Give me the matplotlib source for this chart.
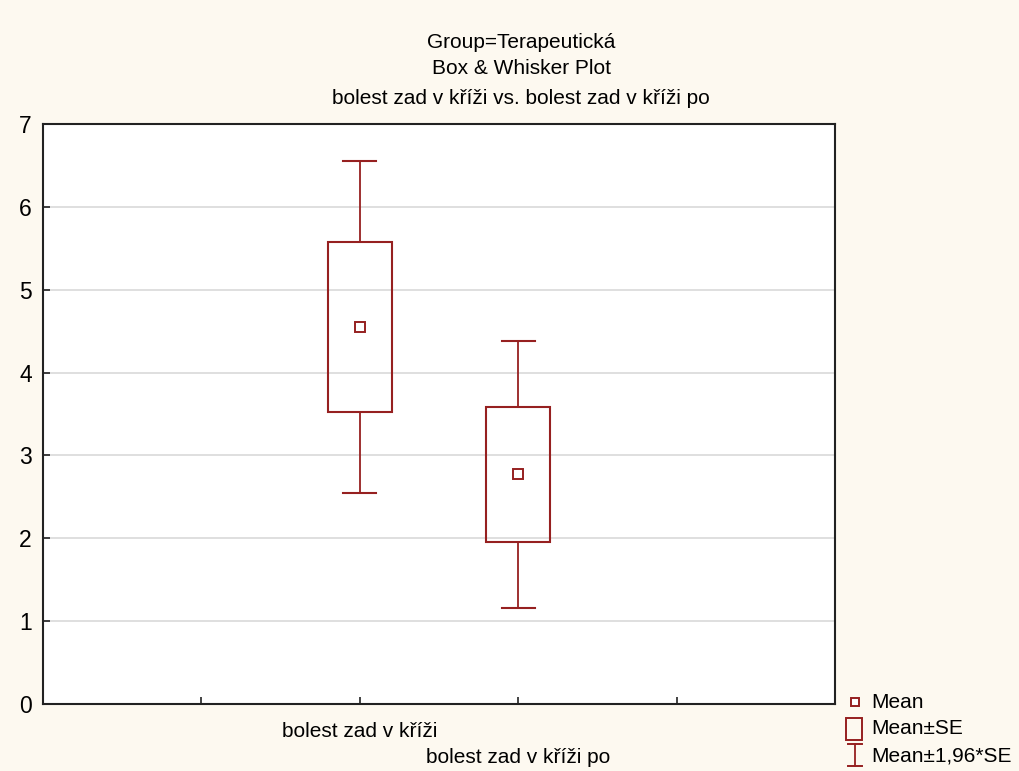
import matplotlib
matplotlib.use("Agg")
import matplotlib.pyplot as plt
from matplotlib.patches import Rectangle
from matplotlib.lines import Line2D

plt.rcParams['font.family'] = ['Liberation Sans', 'DejaVu Sans']

categories = ["bolest zad v kříži", "bolest zad v kříži po"]
means = [4.55, 2.77]
se = [1.02, 0.82]
ci_factor = 1.96
yticks = [0, 1, 2, 3, 4, 5, 6, 7]

color = '#962020'
bg = '#FDF9F0'
FS = 15

fig = plt.figure(figsize=(10.19, 7.71), dpi=100, facecolor=bg)
ax = fig.add_axes([43/1019, 1-704/771, (835-43)/1019, (704-124)/771])
ax.set_facecolor('white')

positions = [2, 3]
box_w = 0.404
cap_w = 0.21
for p, m, s in zip(positions, means, se):
    lo, hi = m - ci_factor*s, m + ci_factor*s
    ax.plot([p, p], [m+s, hi], color=color, lw=1.3, zorder=3)
    ax.plot([p, p], [lo, m-s], color=color, lw=1.3, zorder=3)
    ax.plot([p-cap_w/2, p+cap_w/2], [hi, hi], color=color, lw=1.5, zorder=3)
    ax.plot([p-cap_w/2, p+cap_w/2], [lo, lo], color=color, lw=1.5, zorder=3)
    ax.add_patch(Rectangle((p-box_w/2, m-s), box_w, 2*s, fill=False,
                           edgecolor=color, lw=1.5, zorder=3))
    ax.plot([p], [m], marker='s', ms=6.5, mfc='white', mec=color, mew=1.4, zorder=4)

ax.set_xlim(0, 5)
ax.set_ylim(0, 7)
ax.set_yticks(yticks)
ax.set_yticklabels([str(t) for t in yticks], fontsize=16.5)
ax.set_xticks([1, 2, 3, 4])
ax.set_xticklabels([])
ax.tick_params(direction='in', length=5, width=1.2, color='#222222', pad=12)
ax.tick_params(axis='y', pad=8)
for t in yticks[1:-1]:
    ax.axhline(t, color='#D9D9D9', lw=1.2, zorder=1)
for sp in ax.spines.values():
    sp.set_linewidth(1.5)
    sp.set_color('#222222')

# category labels (staggered)
ax.text(positions[0], -0.33, categories[0], ha='center', va='center', fontsize=FS,
        transform=ax.transData, clip_on=False)
ax.text(positions[1], -0.65, categories[1], ha='center', va='center', fontsize=FS,
        transform=ax.transData, clip_on=False)

# titles
fig.text(521/1019, 1-42/771, "Group=Terapeutická", ha='center', va='center', fontsize=FS)
fig.text(521/1019, 1-68/771, "Box & Whisker Plot", ha='center', va='center', fontsize=FS)
fig.text(521/1019, 1-98/771, "bolest zad v kříži vs. bolest zad v kříži po", ha='center', va='center', fontsize=FS)

# legend (manual)
fx = lambda x: x/1019
fy = lambda y: 1-y/771
fig.add_artist(Line2D([fx(855)], [fy(702)], marker='s', ms=6, mfc='white', mec=color, mew=1.4,
                      transform=fig.transFigure))
fig.text(fx(871), fy(703), "Mean", ha='left', va='center', fontsize=FS)
fig.add_artist(Rectangle((fx(846), fy(740)), fx(16), 22/771, fill=False, edgecolor=color, lw=1.4,
                         transform=fig.transFigure))
fig.text(fx(871), fy(729), "Mean±SE", ha='left', va='center', fontsize=FS)
fig.add_artist(Line2D([fx(855), fx(855)], [fy(744), fy(766)], color=color, lw=1.3, transform=fig.transFigure))
fig.add_artist(Line2D([fx(848), fx(862)], [fy(744), fy(744)], color=color, lw=1.4, transform=fig.transFigure))
fig.add_artist(Line2D([fx(848), fx(862)], [fy(766), fy(766)], color=color, lw=1.4, transform=fig.transFigure))
fig.text(fx(871), fy(756), "Mean±1,96*SE", ha='left', va='center', fontsize=FS)

fig.savefig("out.png", dpi=100, facecolor=bg)
